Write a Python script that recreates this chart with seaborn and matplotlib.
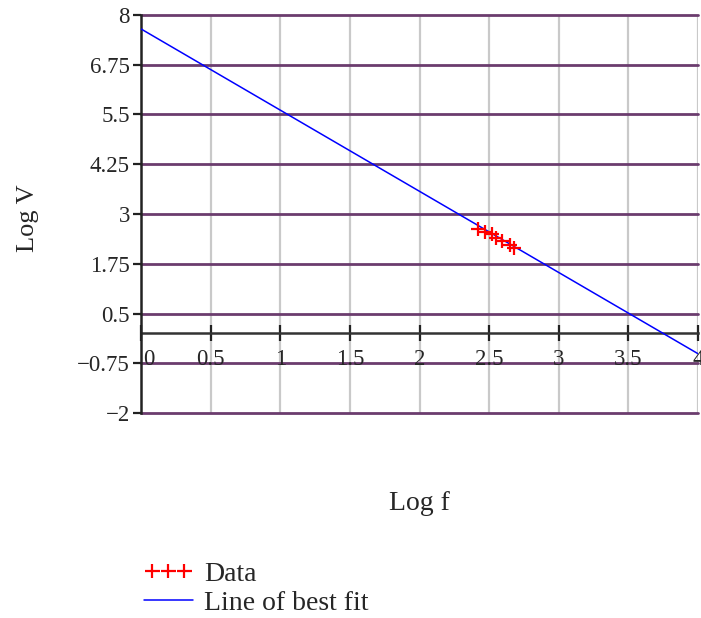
import numpy as np
import pandas as pd
import matplotlib
matplotlib.use("Agg")
import matplotlib.pyplot as plt
import matplotlib.transforms as mtransforms
import seaborn as sns

# ---- data ----
data_x = [2.42, 2.47, 2.52, 2.55, 2.59, 2.65, 2.68]
data_y = [2.63, 2.55, 2.50, 2.40, 2.33, 2.22, 2.15]
fit_x = [0.0, 4.0]
fit_y = [7.65, -0.51]
x_ticks = [0, 0.5, 1, 1.5, 2, 2.5, 3, 3.5, 4]
x_tick_labels = ["0", "0.5", "1", "1.5", "2", "2.5", "3", "3.5", "4"]
y_ticks = [8, 6.75, 5.5, 4.25, 3, 1.75, 0.5, -0.75, -2]
y_tick_labels = ["8", "6.75", "5.5", "4.25", "3", "1.75", "0.5", "\u22120.75", "\u22122"]

sns.set_style("white")
plt.rcParams["font.family"] = ["Liberation Serif", "DejaVu Serif"]

fig = plt.figure(figsize=(7.01, 6.18), dpi=100)
ax = fig.add_axes([141 / 701, 1 - 413 / 618, 557 / 701, 398 / 618])

df_fit = pd.DataFrame({"x": fit_x, "y": fit_y})
df_data = pd.DataFrame({"x": data_x, "y": data_y})

# grid lines
for yv in y_ticks:
    ax.axhline(yv, color="#6b3c6e", lw=2.0, zorder=0.5, clip_on=False)
for xv in x_ticks[1:]:
    ax.axvline(xv, color="#c9c9c9", lw=1.6, zorder=0.4)

sns.lineplot(data=df_fit, x="x", y="y", ax=ax, color="#0000ff", lw=1.1,
             label="Line of best fit", zorder=3)
sns.scatterplot(data=df_data, x="x", y="y", ax=ax, color="#ff0000", marker="+",
                s=110, linewidth=1.6, label="Data", zorder=4)

ax.set_xlim(0, 4)
ax.set_ylim(-2, 8)

for s in ["top", "right"]:
    ax.spines[s].set_visible(False)
ax.spines["bottom"].set_position(("data", 0))
ax.spines["bottom"].set_color("#333333")
ax.spines["bottom"].set_linewidth(1.8)
ax.spines["left"].set_color("#222222")
ax.spines["left"].set_linewidth(1.8)
ax.spines["bottom"].set_zorder(2)

ax.set_yticks(y_ticks)
ax.set_yticklabels(y_tick_labels)
ax.set_xticks(x_ticks)
ax.set_xticklabels(x_tick_labels)

ax.tick_params(axis="x", bottom=True, direction="inout", length=11.5, width=1.6,
               color="#222222", pad=5.5, labelsize=16.5)
ax.tick_params(axis="y", left=True, direction="out", length=6, width=1.6,
               color="#222222", pad=2, labelsize=16.5)

# nudge the "0" label away from the y axis
lbl0 = ax.get_xticklabels()[0]
lbl0.set_transform(lbl0.get_transform() +
                   mtransforms.ScaledTranslation(8 / 100, 0, fig.dpi_scale_trans))

ax.set_xlabel("Log f", fontsize=20)
ax.set_ylabel("Log V", fontsize=19)
ax.xaxis.set_label_coords(0.5, -0.195)
ax.yaxis.set_label_coords(-0.183, 0.49)

if ax.get_legend() is not None:
    ax.get_legend().remove()
handles, labels = ax.get_legend_handles_labels()
order = [labels.index("Data"), labels.index("Line of best fit")]
fig.legend([handles[i] for i in order], [labels[i] for i in order],
           loc="upper left", bbox_to_anchor=(133 / 701, 1 - 550 / 618),
           frameon=False, fontsize=20, scatterpoints=3, scatteryoffsets=[0.5],
           handlelength=1.75, handletextpad=0.4, labelspacing=0.15,
           borderaxespad=0)

fig.savefig("out.png", dpi=100)
